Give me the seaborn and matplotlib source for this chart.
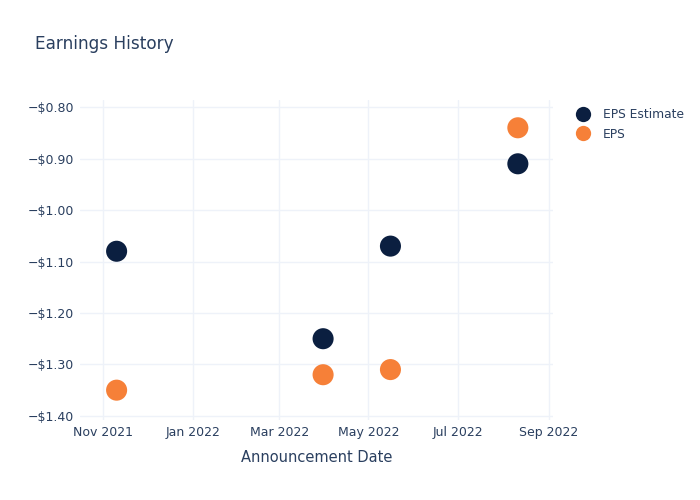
import matplotlib
matplotlib.use("Agg")
import matplotlib.pyplot as plt
import matplotlib.dates as mdates
import matplotlib.ticker as mticker
import seaborn as sns
import pandas as pd
from matplotlib.lines import Line2D

dates = ["2021-11-10", "2022-03-31", "2022-05-16", "2022-08-11"]
eps_estimate = [-1.08, -1.25, -1.07, -0.91]
eps_actual = [-1.35, -1.32, -1.31, -0.84]
series_names = ["EPS Estimate", "EPS"]
colors = ["#0b1f40", "#f68038"]

df = pd.DataFrame({
    "date": pd.to_datetime(dates * 2),
    "value": eps_estimate + eps_actual,
    "series": [series_names[0]] * 4 + [series_names[1]] * 4,
})

sns.set_theme(style="white")
plt.rcParams["font.family"] = ["DejaVu Sans"]
text_color = "#2a3f5f"

fig = plt.figure(figsize=(7, 5), dpi=100)
ax = fig.add_axes([80 / 700, 80 / 500, (553 - 80) / 700, (420 - 100) / 500])
sns.scatterplot(data=df, x="date", y="value", hue="series", palette=colors,
                s=230, edgecolor="none", ax=ax, legend=False, zorder=3)

ax.set_xlim(pd.Timestamp("2021-10-16"), pd.Timestamp("2022-09-04"))
ax.set_ylim(-1.408, -0.786)
ax.xaxis.set_major_locator(mdates.MonthLocator(bymonth=[1, 3, 5, 7, 9, 11]))
ax.xaxis.set_major_formatter(mdates.DateFormatter("%b %Y"))
ax.yaxis.set_major_locator(mticker.MultipleLocator(0.1))
ax.yaxis.set_major_formatter(mticker.FuncFormatter(lambda v, p: ("\u2212$%.2f" % abs(v)) if v < 0 else "$%.2f" % v))
ax.grid(True, color="#eef2f9", linewidth=1)
ax.set_axisbelow(True)
for s in ax.spines.values():
    s.set_visible(False)
ax.tick_params(axis="both", length=0, labelsize=9, colors=text_color, pad=4)
ax.set_xlabel("Announcement Date", fontsize=10.5, color=text_color, labelpad=8)
ax.set_ylabel("")

fig.text(35 / 700, 1 - 44 / 500, "Earnings History", fontsize=12.2, color=text_color,
         va="center", ha="left")

handles = [Line2D([0], [0], marker="o", linestyle="", markersize=11,
                  markerfacecolor=c, markeredgecolor="none") for c in colors]
fig.legend(handles, series_names, loc="upper left", bbox_to_anchor=(571 / 700, 1 - 103 / 500),
           frameon=False, fontsize=8.8, labelcolor=text_color, handletextpad=1.0,
           labelspacing=0.55, borderaxespad=0, handlelength=1.2)

fig.savefig("out.png", dpi=100)
